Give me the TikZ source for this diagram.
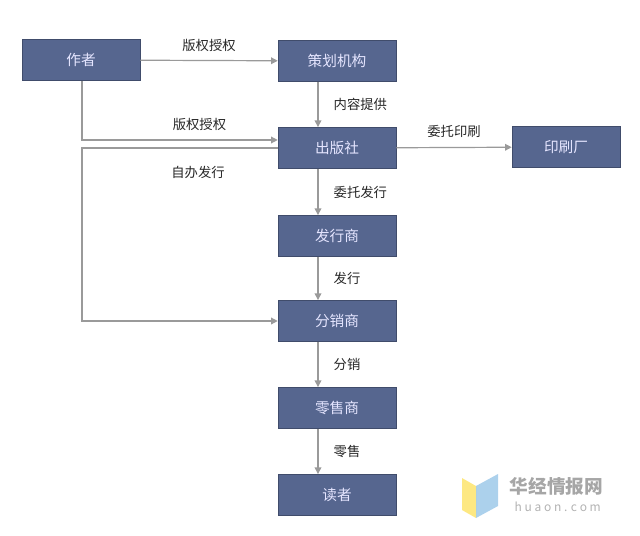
\documentclass[tikz,border=0pt]{standalone}
\usepackage{fontspec}
\setmainfont{Noto Sans CJK SC}
\usetikzlibrary{positioning,arrows.meta}
\definecolor{boxblue}{HTML}{56668F}
\definecolor{linegray}{HTML}{9A9A9A}
\tikzset{
	box/.style={fill=boxblue, draw=boxblue!75!black, text=white!90!blue, minimum width=88.5pt, minimum height=31pt, font=\fontsize{11}{12}\selectfont},
	flow/.style={draw=linegray, line width=0.9pt, -{Triangle[length=5pt,width=5pt]}},
	lbl/.style={font=\fontsize{10}{12}\selectfont, text=black!85}
}
\begin{document}
\begin{tikzpicture}[x=0.75pt,y=-0.75pt]
	\useasboundingbox (0,0) rectangle (640,536);
	\node[box] (author) at (81,60) {作者};
	\node[box] (plan) at (337,61) {策划机构};
	\node[box] (press) at (337,148) {出版社};
	\node[box, minimum width=81pt] (print) at (566,147) {印刷厂};
	\node[box] (issuer) at (337,236) {发行商};
	\node[box] (dist) at (337,321) {分销商};
	\node[box] (retail) at (337,408) {零售商};
	\node[box] (reader) at (337,495) {读者};
	\coordinate (c1) at (82,140);
	\coordinate (c2) at (82,148);
	\coordinate (c3) at (82,321);
	\coordinate (vx) at (318,0);
	\draw[flow] (author) -- (plan) node[lbl, midway, above=3pt] {版权授权};
	\draw[flow] (author.south -| c1) -- (c1) -- (c1 -| press.west) node[lbl, pos=0.6, above=3pt] {版权授权};
	\draw[flow] (press.west) -- (c2) -- (c3) -- (dist);
	\node[lbl] at (198,172) {自办发行};
	\draw[flow] (press) -- (print) node[lbl, midway, above=4pt] {委托印刷};
	\draw[flow] (plan.south -| vx) -- (press.north -| vx) node[lbl, midway, right=8pt] {内容提供};
	\draw[flow] (press.south -| vx) -- (issuer.north -| vx) node[lbl, midway, right=8pt] {委托发行};
	\draw[flow] (issuer.south -| vx) -- (dist.north -| vx) node[lbl, midway, right=8pt] {发行};
	\draw[flow] (dist.south -| vx) -- (retail.north -| vx) node[lbl, midway, right=8pt] {分销};
	\draw[flow] (retail.south -| vx) -- (reader.north -| vx) node[lbl, midway, right=8pt] {零售};
	% watermark
	\fill[yellow!70!orange, opacity=0.5] (462,478) -- (476,486) -- (476,518) -- (462,510) -- cycle;
	\fill[cyan!60!blue, opacity=0.35] (476,486) -- (498,474) -- (498,506) -- (476,518) -- cycle;
	\node[text=black!35, font=\fontsize{14}{16}\selectfont\bfseries, anchor=west] at (505,486) {华经情报网};
	\node[text=black!30, font=\fontsize{9}{10}\selectfont, anchor=west] at (510,507) {h u a o n . c o m};
\end{tikzpicture}
\end{document}
